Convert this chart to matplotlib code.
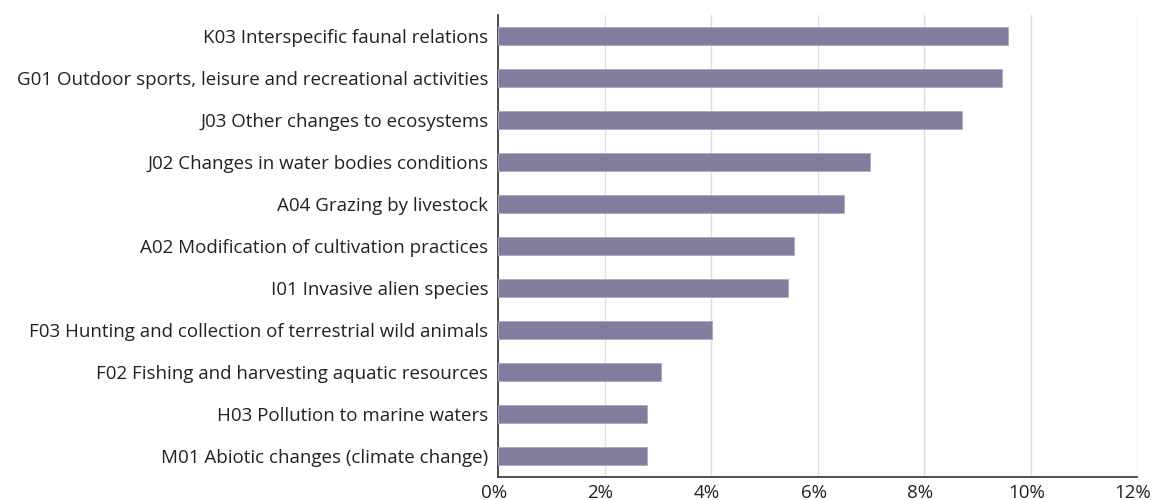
import matplotlib.pyplot as plt
from matplotlib.ticker import FuncFormatter
from matplotlib.transforms import ScaledTranslation

plt.rcParams['font.family'] = ['Open Sans', 'DejaVu Sans']

# Pressures, top to bottom, with share of reports (%)
pressures = [
    'K03 Interspecific faunal relations',
    'G01 Outdoor sports, leisure and recreational activities',
    'J03 Other changes to ecosystems',
    'J02 Changes in water bodies conditions',
    'A04 Grazing by livestock',
    'A02 Modification of cultivation practices',
    'I01 Invasive alien species',
    'F03 Hunting and collection of terrestrial wild animals',
    'F02 Fishing and harvesting aquatic resources',
    'H03 Pollution to marine waters',
    'M01 Abiotic changes (climate change)',
]
shares = [9.57, 9.47, 8.71, 6.98, 6.5, 5.55, 5.45, 4.02, 3.07, 2.79, 2.79]

fig = plt.figure(figsize=(11.52, 5), dpi=100)
ax = fig.add_axes([498 / 1152, 23 / 500, 639 / 1152, 462 / 500])

pos = list(range(len(pressures)))[::-1]
ax.barh(pos, shares, height=0.41, color='#817d9d', edgecolor='#aca8c6',
        linewidth=0.6, zorder=3)

ax.set_xlim(0, 12)
ax.set_ylim(-0.5, len(pressures) - 0.5)
ax.set_xticks(range(0, 13, 2))
ax.xaxis.set_major_formatter(FuncFormatter(lambda v, _: f'{v:.0f}%'))
ax.set_yticks(pos)
ax.set_yticklabels(pressures)

ax.grid(axis='x', color='#dedede', linewidth=1, zorder=0)
for side in ('top', 'right'):
    ax.spines[side].set_visible(False)
for side in ('left', 'bottom'):
    ax.spines[side].set_color('#333333')
    ax.spines[side].set_linewidth(1.2)
ax.tick_params(axis='both', length=0, labelsize=13.5, colors='#222222')
ax.tick_params(axis='y', pad=7)
ax.tick_params(axis='x', pad=5)

# nudge the percent labels a little left so the last one fits
shift = ScaledTranslation(-4 / 100, 0, fig.dpi_scale_trans)
for lbl in ax.get_xticklabels():
    lbl.set_transform(lbl.get_transform() + shift)

fig.savefig('out.png', dpi=100)
